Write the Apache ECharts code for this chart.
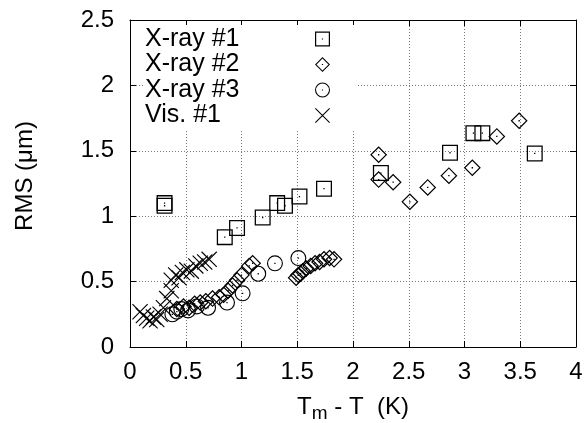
<!DOCTYPE html>
<html><head><meta charset="utf-8">
<script src="https://cdn.jsdelivr.net/npm/echarts@6/dist/echarts.min.js"></script>
<style>html,body{margin:0;padding:0;background:#fff}#c{width:587px;height:423px}</style>
</head><body><div id="c"></div><script>
const seriesNames = ['X-ray #1', 'X-ray #2', 'X-ray #3', 'Vis. #1'];
const xray1 = [[0.31,1.10],[0.31,1.08],[0.85,0.84],[0.96,0.91],[1.19,0.99],[1.32,1.10],[1.39,1.08],[1.52,1.15],[1.74,1.21],[2.25,1.33],[2.87,1.485],[3.08,1.635],[3.16,1.635],[3.63,1.48]];
const xray2 = [[0.42,0.29],[0.48,0.31],[0.53,0.30],[0.58,0.33],[0.63,0.34],[0.68,0.35],[0.74,0.37],[0.80,0.38],[0.84,0.40],[0.88,0.43],[0.92,0.47],[0.96,0.51],[1.00,0.55],[1.07,0.62],[1.10,0.64],
  [1.49,0.53],[1.51,0.55],[1.53,0.56],[1.55,0.58],[1.58,0.60],[1.62,0.62],[1.66,0.64],[1.70,0.65],[1.74,0.67],[1.79,0.68],[1.83,0.67],
  [2.23,1.47],[2.23,1.28],[2.36,1.26],[2.51,1.11],[2.67,1.22],[2.86,1.31],[3.07,1.37],[3.29,1.61],[3.49,1.73]];
const xray3 = [[0.38,0.25],[0.42,0.27],[0.46,0.29],[0.52,0.28],[0.60,0.31],[0.70,0.30],[0.87,0.34],[1.01,0.41],[1.15,0.56],[1.30,0.64],[1.51,0.68]];
const vis1 = [[0.09,0.27],[0.12,0.24],[0.15,0.22],[0.18,0.20],[0.21,0.23],[0.24,0.21],[0.27,0.25],[0.30,0.30],[0.33,0.37],[0.37,0.43],[0.37,0.51],[0.41,0.55],[0.44,0.53],[0.47,0.57],[0.51,0.59],[0.55,0.58],[0.59,0.62],[0.63,0.64],[0.67,0.65],[0.71,0.67]];
const xTicks = {min: 0, max: 4, interval: 0.5};
const yTicks = {min: 0, max: 2.5, interval: 0.5};

const SQ = 'path://M0 0H100V100H0Z M8 8V92H92V8Z M46 46H54V54H46Z';
const DI = 'path://M50 0L100 50L50 100L0 50Z M50 10L10 50L50 90L90 50Z M46 46H54V54H46Z';
const CI = 'path://M50 0A50 50 0 1 1 50 100A50 50 0 1 1 50 0Z M50 7A43 43 0 1 0 50 93A43 43 0 1 0 50 7Z M46 46H54V54H46Z';
const CR = 'path://M0 5L5 0L100 95L95 100Z M95 0L100 5L5 100L0 95Z';

const FONT = 'Liberation Sans, Arial, sans-serif';
const chart = echarts.init(document.getElementById('c'), null, {renderer: 'canvas'});
const gridLine = {show: true, lineStyle: {color: '#777', width: 1, type: [1, 2]}};
const axisLine = {show: true, onZero: false, lineStyle: {color: '#000', width: 1}};
const tick = {show: true, inside: true, length: 6, lineStyle: {color: '#000'}};

function mk(name, data, sym, size) {
  return {name, type: 'scatter', data, symbol: sym, symbolSize: size,
    itemStyle: {color: '#000', opacity: 1}, emphasis: {disabled: true}, z: 3};
}

chart.setOption({
  animation: false,
  backgroundColor: '#fff',
  textStyle: {fontFamily: FONT, color: '#000'},
  grid: {left: 130, right: 11, top: 20, bottom: 76, containLabel: false, outerBoundsMode: 'none'},
  legend: {
    data: seriesNames, orient: 'vertical', align: 'right',
    left: 143, top: 25, padding: [1.5, 28, 3, 2], itemGap: 0.5,
    itemWidth: 15, itemHeight: 15, backgroundColor: '#fff',
    selectedMode: false,
    formatter: n => '{t|' + n + '}',
    textStyle: {rich: {t: {width: 165, align: 'left', fontSize: 25, lineHeight: 25, fontFamily: FONT, color: '#000'}}}
  },
  xAxis: [
    {type: 'value', position: 'bottom', ...xTicks, axisLine, axisTick: tick, splitLine: gridLine,
     axisLabel: {fontSize: 24, color: '#000', margin: 13, fontFamily: FONT},
     name: '{a|T}{s|m}{a| - T  (K)}', nameLocation: 'middle', nameGap: 48,
     nameTextStyle: {verticalAlign: 'top', rich: {
       a: {fontSize: 24, verticalAlign: 'top', fontFamily: FONT, color: '#000'},
       s: {fontSize: 19, verticalAlign: 'top', padding: [9, 0, 0, 0], fontFamily: FONT, color: '#000'}}}},
    {type: 'value', position: 'top', ...xTicks, axisLine, axisTick: tick, splitLine: {show: false}, axisLabel: {show: false}}
  ],
  yAxis: [
    {type: 'value', position: 'left', ...yTicks, axisLine, axisTick: tick, splitLine: gridLine,
     axisLabel: {fontSize: 24, color: '#000', margin: 16, fontFamily: FONT},
     name: 'RMS (μm)', nameLocation: 'middle', nameGap: 93, nameRotate: 90,
     nameTextStyle: {fontSize: 24, color: '#000', fontFamily: FONT, padding: [0, 0, 0, 15]}},
    {type: 'value', position: 'right', ...yTicks, axisLine, axisTick: tick, splitLine: {show: false}, axisLabel: {show: false}}
  ],
  series: [
    mk(seriesNames[0], xray1, SQ, 16),
    mk(seriesNames[1], xray2, DI, 17),
    mk(seriesNames[2], xray3, CI, 16),
    mk(seriesNames[3], vis1, CR, 16)
  ]
});
</script></body></html>
